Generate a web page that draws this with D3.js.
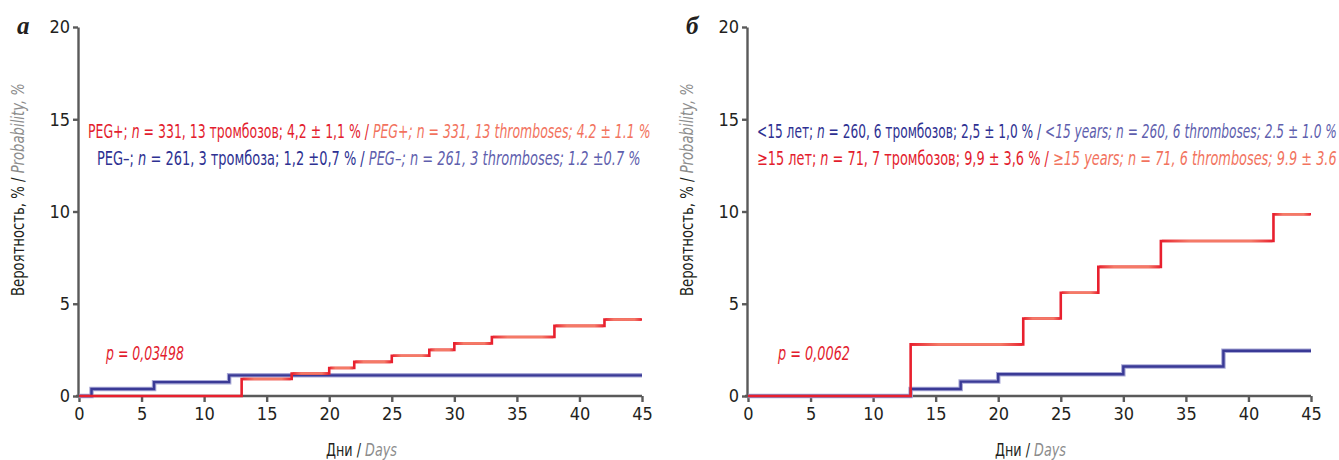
<!DOCTYPE html>
<html>
<head>
  <meta charset="utf-8">
  <title>Вероятность тромбозов</title>
  <script src="https://d3js.org/d3.v7.min.js"></script>
  <style>
    html, body { margin: 0; padding: 0; background: #ffffff; }
    svg { display: block; }
    .cond { font-family: "Liberation Sans Narrow", "DejaVu Sans", sans-serif; font-stretch: condensed; }
    .axis path, .axis line { stroke: #5a5a5a; stroke-width: 2.4px; }
    .axis text { fill: #231f20; }
  </style>
</head>
<body>
<div id="chart"></div>
<script>
  // axis ticks
  const dayTicks = [0, 5, 10, 15, 20, 25, 30, 35, 40, 45];
  const probTicks = [0, 5, 10, 15, 20];

  // panel a: PEG+ / PEG-
  const pegPlusDays = [0, 13, 17, 20, 22, 25, 28, 30, 33, 38, 42, 45];
  const pegPlusProb = [0, 0.92, 1.22, 1.52, 1.85, 2.18, 2.5, 2.85, 3.2, 3.8, 4.15, 4.15];
  const pegMinusDays = [0, 1, 6, 12, 45];
  const pegMinusProb = [0, 0.38, 0.75, 1.12, 1.12];

  // panel b: <15 years / >=15 years
  const youngDays = [0, 13, 17, 20, 30, 38, 45];
  const youngProb = [0, 0.38, 0.78, 1.18, 1.6, 2.45, 2.45];
  const olderDays = [0, 13, 22, 25, 28, 33, 42, 45];
  const olderProb = [0, 2.8, 4.2, 5.6, 7.0, 8.4, 9.85, 9.85];

  // legend texts: [text, italic, colour key]
  const legendA1 = [["PEG+; ", 0, "red"], ["n", 1, "red"], [" = 331, 13 тромбозов; 4,2 ± 1,1 % / ", 0, "red"],
                    ["PEG+; n = 331, 13 thromboses; 4.2 ± 1.1 %", 1, "salmon"]];
  const legendA2 = [["PEG–; ", 0, "blue"], ["n", 1, "blue"], [" = 261, 3 тромбоза; 1,2 ±0,7 % / ", 0, "blue"],
                    ["PEG–; n = 261, 3 thromboses; 1.2 ±0.7 %", 1, "lilac"]];
  const legendB1 = [["<15 лет; ", 0, "blue"], ["n", 1, "blue"], [" = 260, 6 тромбозов; 2,5 ± 1,0 % / ", 0, "blue"],
                    ["<15 years; n = 260, 6 thromboses; 2.5 ± 1.0 %", 1, "lilac"]];
  const legendB2 = [["≥15 лет; ", 0, "red"], ["n", 1, "red"], [" = 71, 7 тромбозов; 9,9 ± 3,6 % / ", 0, "red"],
                    ["≥15 years; n = 71, 6 thromboses; 9.9 ± 3.6", 1, "salmon"]];

  const colors = { red: "#e31d2e", salmon: "#f2735e", blue: "#2e3192", lilac: "#5f5fae", ink: "#231f20", grey: "#8c8c8c" };

  const svg = d3.select("#chart").append("svg")
    .attr("width", 1339)
    .attr("height", 460);

  const defs = svg.append("defs");
  let gradId = 0;

  // squeeze a text horizontally so it is exactly len pixels wide
  function fit(t, x, y, len, rotate) {
    const w = t.node().getComputedTextLength();
    const s = len / w;
    t.attr("x", 0).attr("y", 0)
      .attr("transform", rotate ? `translate(${x},${y}) rotate(-90) scale(${s},1)` : `translate(${x},${y}) scale(${s},1)`);
  }

  function runsText(g, runs, size) {
    const t = g.append("text").attr("class", "cond").attr("font-size", size);
    runs.forEach(r => {
      t.append("tspan")
        .attr("font-style", r[1] ? "italic" : "normal")
        .attr("fill", colors[r[2]])
        .text(r[0]);
    });
    return t;
  }

  function drawPanel(cfg) {
    const x = d3.scaleLinear().domain([0, 45]).range([cfg.left, cfg.left + 563]);
    const y = d3.scaleLinear().domain([0, 20]).range([396, 27]);
    const g = svg.append("g");

    // axes
    g.append("g")
      .attr("class", "axis cond")
      .attr("transform", `translate(0,${y(0)})`)
      .call(d3.axisBottom(x).tickValues(dayTicks).tickSize(6).tickSizeOuter(0).tickPadding(5))
      .call(a => a.select(".domain").attr("d", `M${x(0) - 3},0H${x(45)}`))
      .selectAll("text").attr("font-size", 18);

    g.append("g")
      .attr("class", "axis cond")
      .attr("transform", `translate(${x(0) - 1},0)`)
      .call(d3.axisLeft(y).tickValues(probTicks).tickSize(5).tickSizeOuter(0).tickPadding(3))
      .selectAll("text").attr("font-size", 18);

    // step curves
    cfg.series.forEach(s => {
      const pts = s.days.map((d, i) => [d, s.prob[i]]);
      const line = d3.line().x(d => x(d[0])).y(d => y(d[1])).curve(d3.curveStepAfter);
      if (s.kind === "blue") {
        g.append("path").datum(pts).attr("d", line)
          .attr("fill", "none").attr("stroke", "#a9a9d6").attr("stroke-width", 4.5);
        g.append("path").datum(pts).attr("d", line)
          .attr("fill", "none").attr("stroke", "#3a3a96").attr("stroke-width", 2.4);
      } else {
        g.append("path").datum(pts).attr("d", line)
          .attr("fill", "none").attr("stroke", "#e8202e").attr("stroke-width", 2.6);
        // lighter horizontal runs
        for (let i = 1; i < pts.length - 1; i++) {
          const x1 = x(pts[i][0]), x2 = x(pts[i + 1][0]);
          const id = "grad" + (gradId++);
          const gr = defs.append("linearGradient").attr("id", id)
            .attr("gradientUnits", "userSpaceOnUse")
            .attr("x1", x1).attr("x2", x2).attr("y1", 0).attr("y2", 0);
          gr.append("stop").attr("offset", 0).attr("stop-color", "#e8202e");
          gr.append("stop").attr("offset", 0.25).attr("stop-color", "#f47a66");
          gr.append("stop").attr("offset", 0.8).attr("stop-color", "#f47a66");
          gr.append("stop").attr("offset", 1).attr("stop-color", "#e8202e");
          g.append("line")
            .attr("x1", x1 + 1).attr("x2", x2 - 1)
            .attr("y1", y(pts[i][1])).attr("y2", y(pts[i][1]))
            .attr("stroke", `url(#${id})`).attr("stroke-width", 2.6);
        }
      }
    });

    // panel letter
    g.append("text")
      .attr("x", cfg.left - 62).attr("y", 34)
      .attr("font-family", "Liberation Serif, serif")
      .attr("font-weight", "bold").attr("font-style", "italic")
      .attr("font-size", 25).attr("fill", colors.ink)
      .text(cfg.letter);

    // y title
    const yt = runsText(g, [["Вероятность, % / ", 0, "ink"], ["Probability, %", 1, "grey"]], 18);
    fit(yt, cfg.left - 55, 296, 213, true);

    // x title
    const xt = runsText(g, [["Дни / ", 0, "ink"], ["Days", 1, "grey"]], 18);
    fit(xt, cfg.left + 247, 456, 71);

    // legend
    cfg.legend.forEach(l => fit(runsText(g, l.runs, 19), l.x, l.y, l.len));

    // p value
    const pt = runsText(g, [[cfg.pText, 1, "red"]], 19);
    fit(pt, cfg.left + cfg.pX, 360, cfg.pLen);
  }

  drawPanel({
    left: 79, letter: "а", pText: "p = 0,03498", pX: 27, pLen: 78,
    series: [
      { days: pegMinusDays, prob: pegMinusProb, kind: "blue" },
      { days: pegPlusDays, prob: pegPlusProb, kind: "red" }
    ],
    legend: [
      { runs: legendA1, x: 88, y: 138, len: 563 },
      { runs: legendA2, x: 97, y: 165, len: 544 }
    ]
  });

  drawPanel({
    left: 748, letter: "б", pText: "p = 0,0062", pX: 30, pLen: 72,
    series: [
      { days: youngDays, prob: youngProb, kind: "blue" },
      { days: olderDays, prob: olderProb, kind: "red" }
    ],
    legend: [
      { runs: legendB1, x: 757, y: 138, len: 580 },
      { runs: legendB2, x: 757, y: 165, len: 580 }
    ]
  });
</script>
</body>
</html>
